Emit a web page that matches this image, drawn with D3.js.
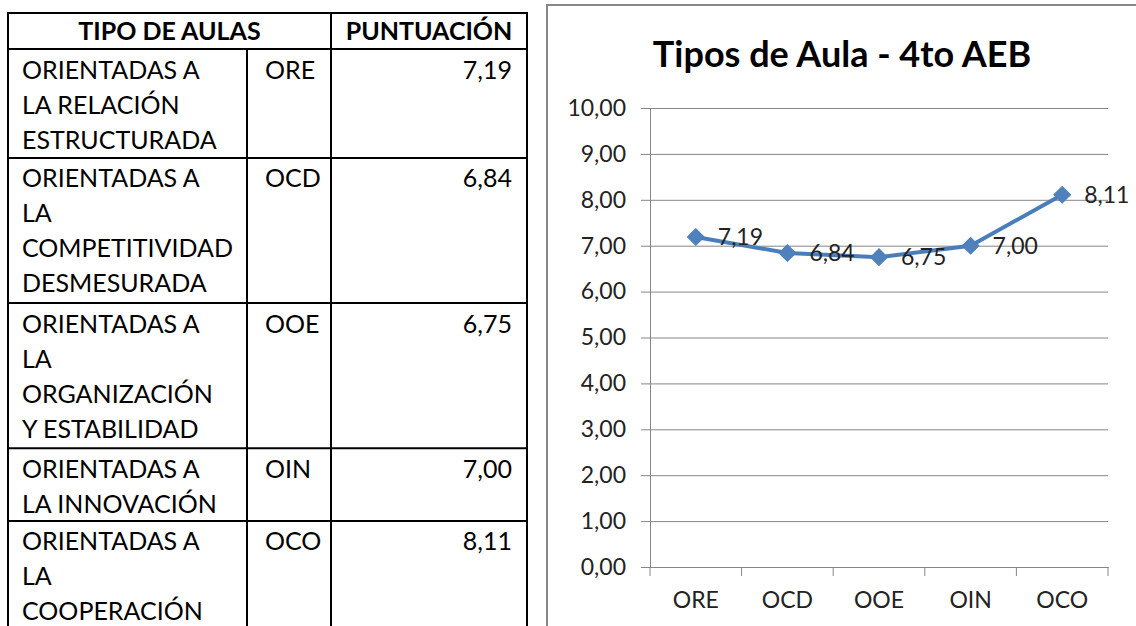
<!DOCTYPE html>
<html>
<head>
<meta charset="utf-8" />
<title>Tipos de Aula - 4to AEB</title>
<script src="https://d3js.org/d3.v7.min.js"></script>
<style>
    html, body { margin: 0; padding: 0; background: #ffffff; }
    svg { display: block; }
    text { font-family: Lato, "Open Sans", sans-serif; }
</style>
</head>
<body>
<svg id="chart" width="1136" height="626"></svg>

<script>
    // datos de la tabla y del gráfico
    var headers = ['TIPO DE AULAS', 'PUNTUACIÓN'];
    var descriptions = [
        ['ORIENTADAS A', 'LA RELACIÓN', 'ESTRUCTURADA'],
        ['ORIENTADAS A', 'LA', 'COMPETITIVIDAD', 'DESMESURADA'],
        ['ORIENTADAS A', 'LA', 'ORGANIZACIÓN', 'Y ESTABILIDAD'],
        ['ORIENTADAS A', 'LA INNOVACIÓN'],
        ['ORIENTADAS A', 'LA', 'COOPERACIÓN']
    ];
    var codes = ['ORE', 'OCD', 'OOE', 'OIN', 'OCO'];
    var scores = [7.19, 6.84, 6.75, 7.00, 8.11];
    var yTicks = [0, 1, 2, 3, 4, 5, 6, 7, 8, 9, 10];
    var chartTitle = 'Tipos de Aula - 4to AEB';

    var es = d3.formatLocale({ decimal: ',', thousands: '.', grouping: [3], currency: ['', ' €'] });
    var fmt = es.format('.2f');

    var svg = d3.select('#chart');

    // ---------- tabla ----------
    var lineH = 36.3;   // alto de fila por línea
    var textH = 35;     // interlineado del texto
    var colX = [8, 247, 331, 527];
    var tableTop = 13, headH = 36;
    var rowTops = [tableTop + headH];
    descriptions.forEach(function(d) {
        rowTops.push(rowTops[rowTops.length - 1] + d.length * lineH);
    });

    var table = svg.append('g').attr('class', 'table');

    table.append('text')
        .attr('x', (colX[0] + colX[2]) / 2).attr('y', tableTop + 27)
        .attr('text-anchor', 'middle')
        .style('font-weight', 'bold').style('font-size', '25px')
        .text(headers[0]);
    table.append('text')
        .attr('x', (colX[2] + colX[3]) / 2).attr('y', tableTop + 27)
        .attr('text-anchor', 'middle')
        .style('font-weight', 'bold').style('font-size', '25px')
        .text(headers[1]);

    var rows = table.selectAll('g.row')
        .data(descriptions)
        .enter()
        .append('g')
        .attr('class', 'row')
        .attr('transform', function(d, i) { return 'translate(0,' + rowTops[i] + ')'; });

    rows.selectAll('text.desc')
        .data(function(d) { return d; })
        .enter()
        .append('text')
        .attr('class', 'desc')
        .attr('x', colX[0] + 14)
        .attr('y', function(d, j) { return 29.5 + j * textH; })
        .style('font-size', '25px')
        .text(function(d) { return d; });

    rows.append('text')
        .attr('x', colX[1] + 18).attr('y', 29.5)
        .style('font-size', '25px')
        .text(function(d, i) { return codes[i]; });

    rows.append('text')
        .attr('x', colX[3] - 15).attr('y', 29.5)
        .attr('text-anchor', 'end')
        .style('font-size', '25px')
        .text(function(d, i) { return fmt(scores[i]); });

    // líneas de la tabla
    var hLines = [tableTop].concat(rowTops.slice(0, rowTops.length - 1));
    table.selectAll('line.h')
        .data(hLines)
        .enter()
        .append('line')
        .attr('x1', colX[0] - 1).attr('x2', colX[3] + 1)
        .attr('y1', function(d) { return d; }).attr('y2', function(d) { return d; })
        .attr('stroke', '#000').attr('stroke-width', 2);
    var tableBottom = 640;
    table.selectAll('line.v')
        .data([
            { x: colX[0], y1: tableTop },
            { x: colX[1], y1: tableTop + headH },
            { x: colX[2], y1: tableTop },
            { x: colX[3], y1: tableTop }
        ])
        .enter()
        .append('line')
        .attr('x1', function(d) { return d.x; }).attr('x2', function(d) { return d.x; })
        .attr('y1', function(d) { return d.y1; }).attr('y2', tableBottom)
        .attr('stroke', '#000').attr('stroke-width', 2);

    // ---------- gráfico ----------
    svg.append('rect')
        .attr('x', 547).attr('y', 5)
        .attr('width', 620).attr('height', 650)
        .attr('fill', '#fff')
        .attr('stroke', '#868686').attr('stroke-width', 2);

    svg.append('text')
        .attr('x', 842).attr('y', 67)
        .attr('text-anchor', 'middle')
        .style('font-weight', 'bold').style('font-size', '36px')
        .attr('fill', '#000')
        .text(chartTitle);

    var plotL = 650, plotR = 1108, plotT = 108, plotB = 567;
    var x = d3.scaleBand().domain(codes).range([plotL, plotR]);
    var y = d3.scaleLinear().domain([0, 10]).range([plotB, plotT]);

    // líneas de cuadrícula
    svg.append('g')
        .attr('transform', 'translate(' + plotL + ',0)')
        .call(d3.axisLeft(y).tickValues(yTicks).tickSize(-(plotR - plotL)).tickFormat(''))
        .call(function(g) {
            g.select('.domain').remove();
            g.selectAll('line').attr('stroke', '#868686').attr('stroke-width', 1);
        });

    // eje Y
    svg.append('g')
        .attr('transform', 'translate(' + plotL + ',0)')
        .call(d3.axisLeft(y).tickValues(yTicks).tickSize(9).tickPadding(15).tickFormat(fmt))
        .call(function(g) {
            g.select('.domain').attr('stroke', '#868686');
            g.selectAll('line').attr('stroke', '#868686');
            g.selectAll('text')
                .style('font-size', '23px')
                .style('font-family', 'Lato, "Open Sans", sans-serif')
                .attr('fill', '#222');
        });

    // eje X
    var xAxis = svg.append('g')
        .attr('transform', 'translate(0,' + plotB + ')')
        .call(d3.axisBottom(x).tickSize(0).tickPadding(25))
        .call(function(g) {
            g.select('.domain').attr('stroke', '#868686');
            g.selectAll('text')
                .style('font-size', '23px')
                .style('font-family', 'Lato, "Open Sans", sans-serif')
                .attr('fill', '#222');
        });
    var bounds = codes.map(function(c) { return x(c); }).concat([plotR]);
    xAxis.selectAll('line.sep')
        .data(bounds)
        .enter()
        .append('line')
        .attr('x1', function(d) { return d; }).attr('x2', function(d) { return d; })
        .attr('y1', 0).attr('y2', 9)
        .attr('stroke', '#868686');

    // serie
    var pts = codes.map(function(c, i) { return { code: c, v: scores[i] }; });
    var cx = function(d) { return x(d.code) + x.bandwidth() / 2; };

    svg.append('path')
        .datum(pts)
        .attr('fill', 'none')
        .attr('stroke', '#4A7EBB')
        .attr('stroke-width', 4)
        .attr('stroke-linejoin', 'round')
        .attr('d', d3.line().x(cx).y(function(d) { return y(d.v); }));

    svg.selectAll('path.marker')
        .data(pts)
        .enter()
        .append('path')
        .attr('class', 'marker')
        .attr('d', d3.symbol().type(d3.symbolSquare).size(140))
        .attr('transform', function(d) { return 'translate(' + cx(d) + ',' + y(d.v) + ') rotate(45)'; })
        .attr('fill', '#4F81BD')
        .attr('stroke', '#4A7EBB')
        .attr('stroke-width', 1);

    svg.selectAll('text.lbl')
        .data(pts)
        .enter()
        .append('text')
        .attr('class', 'lbl')
        .attr('x', function(d) { return cx(d) + 22; })
        .attr('y', function(d) { return y(d.v) + 8; })
        .style('font-size', '23px')
        .attr('fill', '#222')
        .text(function(d) { return fmt(d.v); });
</script>
</body>
</html>
